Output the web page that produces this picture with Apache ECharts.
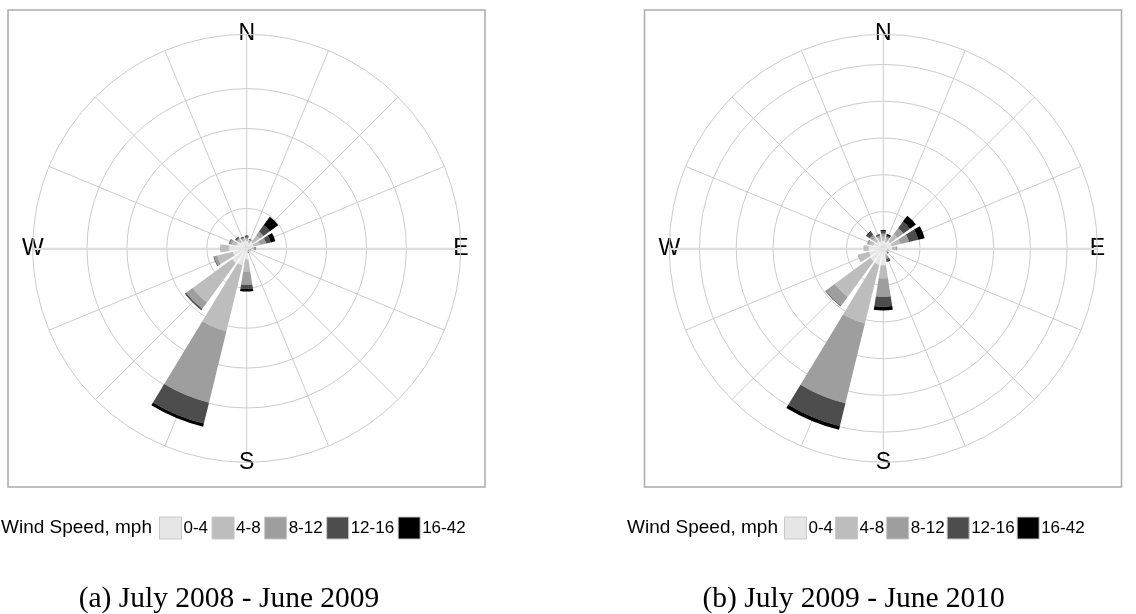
<!DOCTYPE html>
<html><head><meta charset="utf-8">
<script src="https://cdn.jsdelivr.net/npm/echarts@6/dist/echarts.min.js"></script>
<style>html,body{margin:0;padding:0;background:#fff;} #c{width:1136px;height:614px;}</style>
</head><body><div id="c"></div>
<script>
// ---- data ----
const directions = ['N','NNE','NE','ENE','E','ESE','SE','SSE','S','SSW','SW','WSW','W','WNW','NW','NNW'];
const directionTickLabels = ['N','E','S','W'];
const speedBins = ['0-4','4-8','8-12','12-16','16-42'];
const legendTitle = 'Wind Speed, mph';
const captions = ['(a) July 2008 - June 2009', '(b) July 2009 - June 2010'];

// Panel (a): July 2008 - June 2009 (frequency, %)
const a_0_4   = [0.9,0.7,1.0,0.9,0.6,0.35,0.3,0.4,1.4,2.2,2.3,1.8,2.2,1.3,1.0,0.9];
const a_4_8   = [0.3,0.3,1.0,0.8,0.3,0.1,0.05,0.1,1.5,8.5,6.1,2.0,1.0,0.6,0.4,0.3];
const a_8_12  = [0.15,0.1,0.6,0.8,0.1,0.05,0.03,0.05,1.7,9.2,1.0,0.4,0.1,0.3,0.2,0.15];
const a_12_16 = [0.15,0.05,1.0,0.6,0.05,0.02,0.02,0.03,0.5,2.7,0.15,0.1,0,0.1,0.15,0.1];
const a_16_42 = [0.1,0.05,1.3,0.6,0.05,0.02,0.02,0.02,0.3,0.4,0.05,0,0,0,0.05,0.05];

// Panel (b): July 2009 - June 2010 (frequency, %)
const b_0_4   = [1.0,0.9,1.2,1.2,1.2,0.5,0.5,0.9,2.3,2.3,2.2,2.0,2.0,1.4,1.2,1.0];
const b_4_8   = [0.6,0.4,1.2,1.2,0.5,0.2,0.2,0.3,1.8,8.2,6.0,1.5,0.7,0.6,0.6,0.5];
const b_8_12  = [0.4,0.3,1.0,1.2,0.2,0.05,0.1,0.3,2.5,11.2,1.5,0.1,0,0.2,0.5,0.3];
const b_12_16 = [0.3,0.2,1.1,1.3,0,0,0.05,0.3,1.35,3.2,0.1,0,0,0.05,0.5,0.15];
const b_16_42 = [0.2,0.2,1.0,0.9,0,0,0.05,0.1,0.5,0.5,0,0,0,0,0.1,0.05];

const panelA = [a_0_4, a_4_8, a_8_12, a_12_16, a_16_42];
const panelB = [b_0_4, b_4_8, b_8_12, b_12_16, b_16_42];
const radiusMax = [26.8, 29.1];   // outer circle value of each panel
const ringMax = [20, 25];         // last grid ring drawn in each panel
const ringStep = 5;

// ---- layout / styling ----
const centers = [[246.7, 248.3], [883.3, 248.3]];
const R = 214;
const binColors = ['#e6e6e6','#bdbdbd','#9e9e9e','#4d4d4d','#000000'];
const sans = '"Liberation Sans", Arial, sans-serif';
const serif = '"Liberation Serif", "Times New Roman", serif';
const gridColor = '#cccccc';
const off = {show: false};

const polars = [], angleAxes = [], radiusAxes = [];
function addPolar(center, radius, angleCfg, radiusCfg){
  const idx = polars.length;
  polars.push({center: center, radius: radius});
  angleAxes.push(Object.assign({polarIndex: idx, axisLine: off, axisTick: off, axisLabel: off, splitLine: off}, angleCfg));
  radiusAxes.push(Object.assign({polarIndex: idx, axisLine: off, axisTick: off, axisLabel: off, splitLine: off}, radiusCfg));
  return idx;
}

const series = [];
[panelA, panelB].forEach((panel, p) => {
  const c = centers[p];
  // outer circle + 16 spokes, and the E half of the E-W line
  addPolar(c, R,
    {type: 'value', min: 0, max: 360, interval: 22.5, startAngle: 0,
     axisLine: {show: true, lineStyle: {color: gridColor, width: 1}},
     splitLine: {show: true, lineStyle: {color: gridColor, width: 1}}},
    {type: 'value', min: 0, max: 1,
     axisLine: {show: true, lineStyle: {color: '#dedede', width: 2}}});
  // W half of the E-W line
  addPolar(c, R,
    {type: 'value', min: 0, max: 360, startAngle: 180},
    {type: 'value', min: 0, max: 1,
     axisLine: {show: true, lineStyle: {color: '#dedede', width: 2}}});
  // concentric rings
  addPolar(c, R * ringMax[p] / radiusMax[p],
    {type: 'value', min: 0, max: 360, startAngle: 90},
    {type: 'value', min: 0, max: ringMax[p], interval: ringStep,
     splitLine: {show: true, lineStyle: {color: gridColor, width: 1}}});
  // data polar
  const d = addPolar(c, R,
    {type: 'category', data: directions, boundaryGap: false, startAngle: 90, clockwise: true,
     axisLabel: {show: true, interval: 0, margin: -11,
       color: '#000', fontSize: 23, fontFamily: sans,
       rich: {e: {fontSize: 23, fontFamily: sans, color: '#000', padding: [0, 0, 0, 3.5]}},
       formatter: v => v === 'E' ? '{e|E}' : (directionTickLabels.includes(v) ? v : '')}},
    {type: 'value', min: 0, max: radiusMax[p]});
  panel.forEach((vals, i) => series.push({
    type: 'bar', coordinateSystem: 'polar', polarIndex: d,
    name: speedBins[i], stack: 'p' + p, data: vals, barWidth: '78%',
    itemStyle: {color: binColors[i]}, emphasis: {disabled: true}
  }));
});

function legendFor(left, gap){
  return {
    data: speedBins, left: left, top: 516.5, orient: 'horizontal', padding: 0,
    itemWidth: 22, itemHeight: 22, itemGap: gap, icon: 'rect', selectedMode: false,
    itemStyle: {borderColor: '#c8c8c8', borderWidth: 1},
    textStyle: {fontSize: 17, fontFamily: sans, color: '#000', padding: [0,0,0,-3]}
  };
}
function text(x, y, str, font, align){
  return {type: 'text', x: x, y: y, style: {text: str, font: font, fill: '#000', align: align, verticalAlign: 'middle'}};
}

const chart = echarts.init(document.getElementById('c'));
chart.setOption({
  animation: false,
  backgroundColor: '#fff',
  polar: polars, angleAxis: angleAxes, radiusAxis: radiusAxes,
  legend: [legendFor(159, 3.5), legendFor(784, 2)],
  series: series,
  graphic: [
    {type: 'rect', shape: {x: 8, y: 10, width: 477, height: 477}, style: {fill: 'none', stroke: '#ababab', lineWidth: 1.5}},
    {type: 'rect', shape: {x: 644.5, y: 10, width: 477, height: 477}, style: {fill: 'none', stroke: '#ababab', lineWidth: 1.5}},
    text(152, 527.5, legendTitle, '19px ' + sans, 'right'),
    text(778, 527.5, legendTitle, '19px ' + sans, 'right'),
    text(229, 599.5, captions[0], '29.5px ' + serif, 'center'),
    text(853.7, 599.5, captions[1], '29.5px ' + serif, 'center')
  ]
});
</script>
</body></html>
